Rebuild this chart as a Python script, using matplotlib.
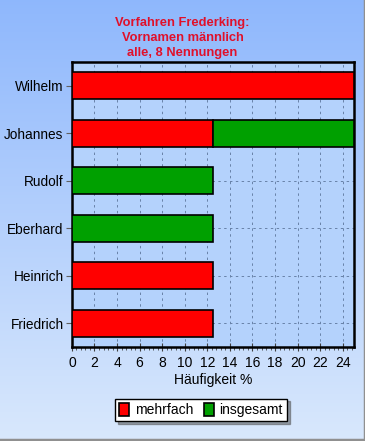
import matplotlib
matplotlib.use("Agg")
import matplotlib.pyplot as plt
import matplotlib.ticker as mticker
import numpy as np

plt.rcParams["font.family"] = ["Liberation Sans", "DejaVu Sans"]

# ── Data ──────────────────────────────────────────────────────────────────────
names = ["Wilhelm", "Johannes", "Rudolf", "Eberhard", "Heinrich", "Friedrich"]
mehrfach = [25.0, 12.5, 0.0, 0.0, 12.5, 12.5]
insgesamt = [0.0, 12.5, 12.5, 12.5, 0.0, 0.0]
x_ticks = list(range(0, 25, 2))

title = "Vorfahren Frederking:\nVornamen männlich\nalle, 8 Nennungen"

# ── Figure ────────────────────────────────────────────────────────────────────
fig = plt.figure(figsize=(3.65, 4.41), dpi=100)

# gradient background
bg = fig.add_axes([0, 0, 1, 1], zorder=-10)
grad = np.linspace(0, 1, 256).reshape(-1, 1)
top = np.array([0.56, 0.72, 0.99])
bot = np.array([0.85, 0.91, 0.99])
img = top + (bot - top) * grad[:, :, None]
bg.imshow(img, aspect="auto", extent=[0, 1, 0, 1])
bg.plot([0, 1, 1], [0.002, 0.002, 1], color="#909090", lw=2.5,
        transform=bg.transAxes)
bg.set_xlim(0, 1)
bg.set_ylim(0, 1)
bg.axis("off")

ax = fig.add_axes([0.197, 0.213, 0.773, 0.646])
ax.set_facecolor("#b4d2fc")

y = np.arange(len(names))[::-1]
m = np.array(mehrfach)
g = np.array(insgesamt)
h = 0.57

sel = m > 0
ax.barh(y[sel], m[sel], height=h, color="#ff0000", edgecolor="black",
        linewidth=1.2, zorder=3, label="mehrfach")
sel = g > 0
ax.barh(y[sel], g[sel], left=m[sel], height=h, color="#00a000",
        edgecolor="black", linewidth=1.2, zorder=3, label="insgesamt")

ax.set_xlim(0, 25)
ax.set_ylim(-0.5, len(names) - 0.5)
ax.set_yticks(y)
ax.set_yticklabels(names, fontsize=9.8)
ax.set_xticks(x_ticks)
ax.tick_params(axis="x", labelsize=10, direction="inout", length=6,
               color="#404040")
ax.xaxis.set_minor_locator(mticker.MultipleLocator(0.4))
ax.tick_params(axis="x", which="minor", direction="out", length=2.5,
               color="#404040")
ax.tick_params(axis="y", length=4, color="#606060", pad=2)
ax.grid(True, linestyle=(0, (2.5, 3.5)), color="#6882a8", linewidth=0.7,
        zorder=1)
ax.set_axisbelow(True)
for sp in ax.spines.values():
    sp.set_linewidth(1.8)
    sp.set_color("black")

ax.set_xlabel("Häufigkeit %", fontsize=10, labelpad=2)

fig.text(0.5, 1 - 38 / 441, title, ha="center", va="center", color="#e0102a",
         fontsize=9.3, fontweight="bold", linespacing=1.3)

leg = fig.legend(loc="center", bbox_to_anchor=(201 / 365, 1 - 410 / 441),
                 ncol=2, fontsize=10, frameon=True, fancybox=False,
                 shadow=True, edgecolor="black", framealpha=1,
                 handlelength=0.7, handleheight=1.1, handletextpad=0.4,
                 columnspacing=0.8, borderpad=0.3, borderaxespad=0)
leg.get_frame().set_linewidth(1.0)

fig.savefig("out.png", dpi=100)
